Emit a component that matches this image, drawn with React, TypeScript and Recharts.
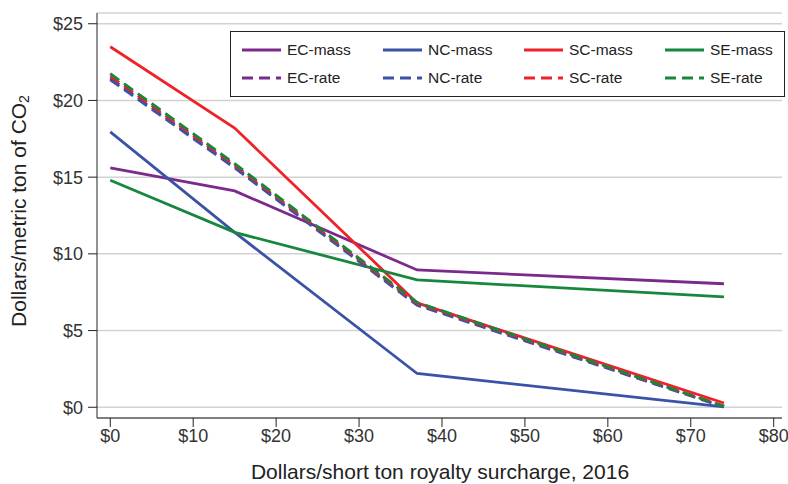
import React from 'react'
import { LineChart, Line, XAxis, YAxis, CartesianGrid, Label } from 'recharts'

// surcharge levels ($/short ton)
const surcharge = [0, 15, 37, 74]

const ecMass = [15.6, 14.1, 8.95, 8.05]
const ncMass = [17.95, 11.4, 2.2, 0.02]
const scMass = [23.5, 18.2, 6.8, 0.28]
const seMass = [14.8, 11.4, 8.3, 7.2]

const ecRate = [21.45, 15.68, 6.72, 0.05]
const ncRate = [21.35, 15.6, 6.65, 0.02]
const scRate = [21.6, 15.78, 6.78, 0.08]
const seRate = [21.75, 15.88, 6.84, 0.06]

const xTicks = [0, 10, 20, 30, 40, 50, 60, 70, 80]
const yTicks = [0, 5, 10, 15, 20, 25]

const PURPLE = '#7b2a8c'
const BLUE = '#3b53a6'
const RED = '#ee2228'
const GREEN = '#17873d'
const FONT = '"Liberation Sans", Arial, Helvetica, sans-serif'

const data = surcharge.map((x, i) => ({
  x,
  ecMass: ecMass[i],
  ncMass: ncMass[i],
  scMass: scMass[i],
  seMass: seMass[i],
  ecRate: ecRate[i],
  ncRate: ncRate[i],
  scRate: scRate[i],
  seRate: seRate[i],
}))

const series = [
  { key: 'ecMass', name: 'EC-mass', color: PURPLE, dashed: false },
  { key: 'ncMass', name: 'NC-mass', color: BLUE, dashed: false },
  { key: 'scMass', name: 'SC-mass', color: RED, dashed: false },
  { key: 'seMass', name: 'SE-mass', color: GREEN, dashed: false },
  { key: 'ecRate', name: 'EC-rate', color: PURPLE, dashed: true },
  { key: 'ncRate', name: 'NC-rate', color: BLUE, dashed: true },
  { key: 'scRate', name: 'SC-rate', color: RED, dashed: true },
  { key: 'seRate', name: 'SE-rate', color: GREEN, dashed: true },
]

const DASH = '11 6'
const LW = 2.8

const fmt = (v: number) => `$${v}`

// legend box drawn over the plot, top right
const LegendBox = () => (
  <div
    style={{
      position: 'absolute',
      left: 230,
      top: 31,
      width: 555,
      height: 66,
      border: '1px solid #222',
      background: '#fff',
      boxSizing: 'border-box',
      padding: '4px 0 0 11px',
      fontFamily: FONT,
      fontSize: 15.5,
      color: '#222',
      display: 'grid',
      gridTemplateColumns: '141px 141px 141px 130px',
      gridAutoRows: '28px',
    }}
  >
    {series.map((s) => (
      <div key={s.key} style={{ display: 'flex', alignItems: 'center' }}>
        <svg width={39} height={10} style={{ marginRight: 6 }}>
          <line
            x1={0}
            y1={5}
            x2={39}
            y2={5}
            stroke={s.color}
            strokeWidth={LW}
            strokeDasharray={s.dashed ? DASH : undefined}
          />
        </svg>
        <span>{s.name}</span>
      </div>
    ))}
  </div>
)

const YLabel = () => {
  const cx = 18
  const cy = 211
  return (
    <text
      x={cx}
      y={cy}
      transform={`rotate(-90, ${cx}, ${cy})`}
      textAnchor="middle"
      dominantBaseline="central"
      fontFamily={FONT}
      fontSize={21}
      fill="#222"
    >
      Dollars/metric ton of CO
      <tspan fontSize={14} dy={6}>2</tspan>
    </text>
  )
}

const XLabel = () => (
  <text
    x={440}
    y={471}
    textAnchor="middle"
    dominantBaseline="central"
    fontFamily={FONT}
    fontSize={21}
    fill="#222"
  >
    Dollars/short ton royalty surcharge, 2016
  </text>
)

export default function App() {
  return (
    <div style={{ position: 'absolute', left: 0, top: 0, width: 788, height: 484, background: '#fff' }}>
      <LineChart
        width={788}
        height={484}
        data={data}
        margin={{ top: 13, right: 6, left: 0, bottom: 0 }}
      >
        <CartesianGrid vertical={false} stroke="#d2d2d2" strokeWidth={1.5} />
        <XAxis
          type="number"
          dataKey="x"
          domain={[-1.6, 81]}
          ticks={xTicks}
          allowDataOverflow
          tickFormatter={fmt}
          height={66}
          stroke="#222"
          tickSize={9}
          tickMargin={2}
          tick={{ fill: '#333', fontSize: 18, fontFamily: FONT }}
        >
          <Label content={<XLabel />} />
        </XAxis>
        <YAxis
          type="number"
          domain={[-0.7, 25.7]}
          ticks={yTicks}
          allowDataOverflow
          tickFormatter={fmt}
          width={97}
          stroke="#222"
          tickSize={9}
          tickMargin={5}
          tick={{ fill: '#333', fontSize: 18, fontFamily: FONT }}
        >
          <Label content={<YLabel />} />
        </YAxis>
        {series.map((s) => (
          <Line
            key={s.key}
            dataKey={s.key}
            name={s.name}
            stroke={s.color}
            strokeWidth={LW}
            strokeDasharray={s.dashed ? DASH : undefined}
            dot={false}
            activeDot={false}
            isAnimationActive={false}
          />
        ))}
      </LineChart>
      <LegendBox />
    </div>
  )
}
